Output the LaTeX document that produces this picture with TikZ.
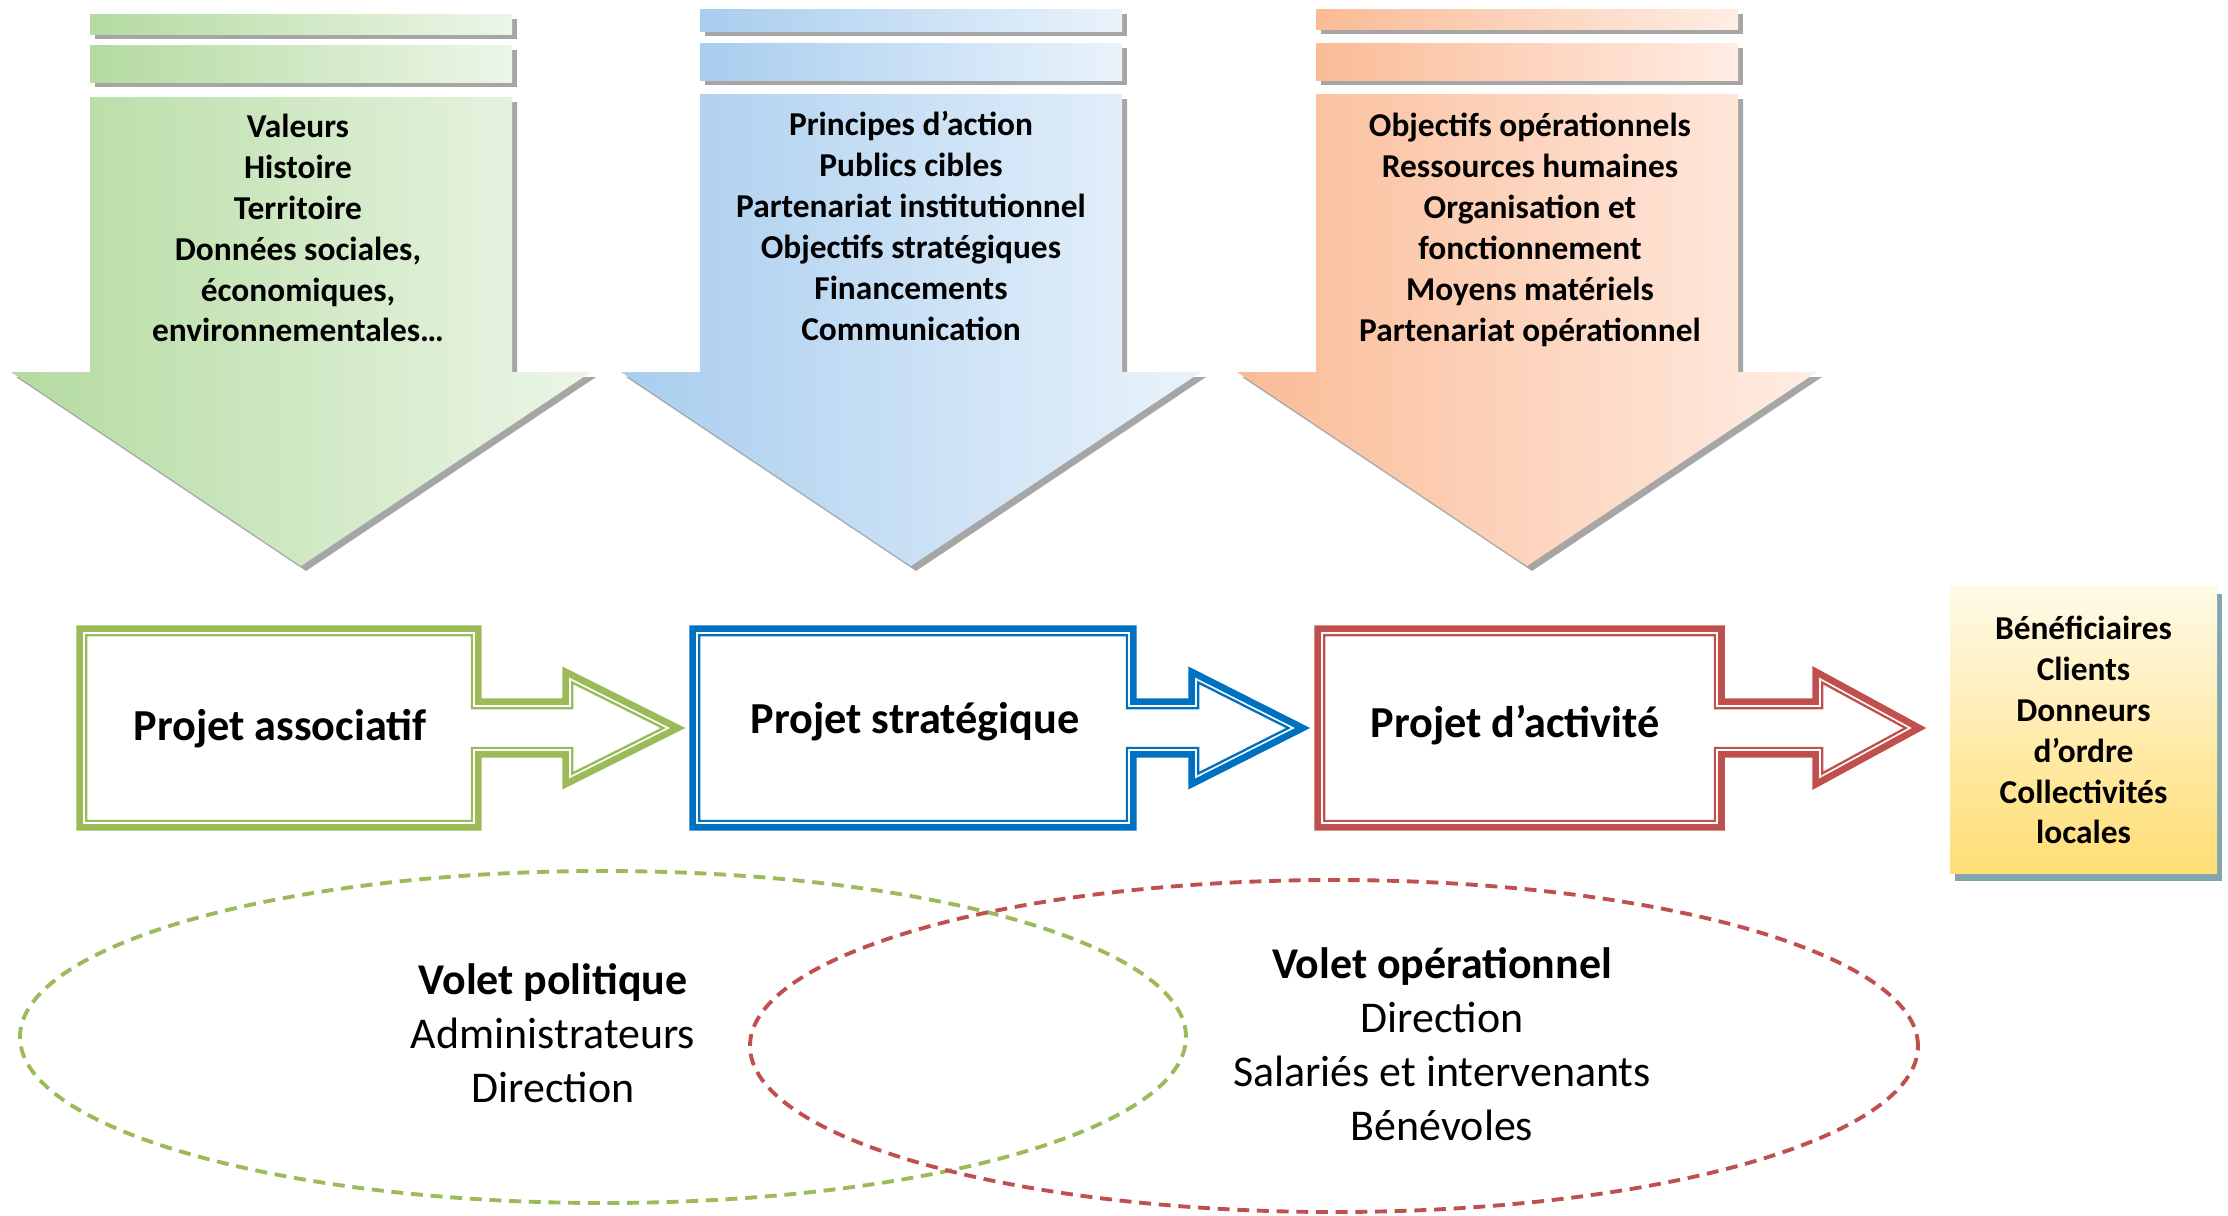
\documentclass[tikz,border=0pt]{standalone}
\usepackage{fontspec}
\setmainfont{Carlito}
\usetikzlibrary{shadows}

\definecolor{greenL}{RGB}{180,219,160}
\definecolor{greenR}{RGB}{236,246,232}
\definecolor{blueL}{RGB}{168,205,238}
\definecolor{blueR}{RGB}{234,243,251}
\definecolor{orangeL}{RGB}{250,187,150}
\definecolor{orangeR}{RGB}{255,237,228}
\definecolor{yellowT}{RGB}{255,250,232}
\definecolor{yellowB}{RGB}{255,222,117}
\definecolor{shadowB}{RGB}{130,165,175}
\definecolor{lineG}{RGB}{155,187,89}
\definecolor{lineB}{RGB}{0,112,192}
\definecolor{lineR}{RGB}{192,80,77}

% outline of a project box with its arrow: left, right, head, tip
\newcommand{\projetpath}[4]{(#1,-6.33) -- (#2,-6.33) -- (#2,-7.06) -- (#3,-7.06) -- (#3,-6.79) -- (#4,-7.28) -- (#3,-7.77) -- (#3,-7.50) -- (#2,-7.50) -- (#2,-8.23) -- (#1,-8.23) -- cycle}

\begin{document}
\begin{tikzpicture}[
  dshadow/.style={drop shadow={shadow xshift=0.05cm, shadow yshift=-0.05cm, fill=black!35, opacity=1}},
  projet/.style={preaction={draw=#1, line width=4.4pt}, fill=white, draw=#1, line width=0.7pt, double=white, double distance=0.45pt, line join=miter},
  listtxt/.style={align=center, font=\fontsize{9.5}{11.65}\selectfont\bfseries},
  titletxt/.style={font=\fontsize{12.6}{15}\selectfont\bfseries},
  voltxt/.style={align=center, font=\fontsize{12.5}{15.4}\selectfont},
  pubbox/.style={minimum width=2.67cm, minimum height=2.87cm, inner sep=0pt, top color=yellowT, bottom color=yellowB,
    drop shadow={shadow xshift=0.05cm, shadow yshift=-0.07cm, fill=shadowB, opacity=1}},
  volet/.style={line width=1.1pt, dash pattern=on 3.4pt off 2.2pt}
]
\useasboundingbox (0,0) rectangle (22.28,-12.15);

% Three down arrows
\shade[dshadow, left color=greenL, right color=greenR] (0.90,-0.14) rectangle (5.12,-0.34);
\shade[dshadow, left color=greenL, right color=greenR] (0.90,-0.45) rectangle (5.12,-0.82);
\shade[dshadow, left color=greenL, right color=greenR] (0.90,-0.97) -- (5.12,-0.97) -- (5.12,-3.72) -- (5.91,-3.72) -- (3.01,-5.66) -- (0.11,-3.72) -- (0.90,-3.72) -- cycle;

\shade[dshadow, left color=blueL, right color=blueR] (7.00,-0.09) rectangle (11.22,-0.31);
\shade[dshadow, left color=blueL, right color=blueR] (7.00,-0.43) rectangle (11.22,-0.80);
\shade[dshadow, left color=blueL, right color=blueR] (7.00,-0.94) -- (11.22,-0.94) -- (11.22,-3.72) -- (12.01,-3.72) -- (9.11,-5.66) -- (6.21,-3.72) -- (7.00,-3.72) -- cycle;

\shade[dshadow, left color=orangeL, right color=orangeR] (13.16,-0.09) rectangle (17.38,-0.29);
\shade[dshadow, left color=orangeL, right color=orangeR] (13.16,-0.43) rectangle (17.38,-0.80);
\shade[dshadow, left color=orangeL, right color=orangeR] (13.16,-0.94) -- (17.38,-0.94) -- (17.38,-3.72) -- (18.17,-3.72) -- (15.27,-5.66) -- (12.37,-3.72) -- (13.16,-3.72) -- cycle;

\node[listtxt] (valeurs) at (2.98,-2.28) {Valeurs\\Histoire\\Territoire\\Données sociales,\\économiques,\\environnementales…};
\node[listtxt] (principes) at (9.11,-2.26) {Principes d’action\\Publics cibles\\Partenariat institutionnel\\Objectifs stratégiques\\Financements\\Communication};
\node[listtxt] (objectifs) at (15.30,-2.30) {Objectifs opérationnels\\Ressources humaines\\Organisation et\\fonctionnement\\Moyens matériels\\Partenariat opérationnel};

% Project boxes
\draw[projet=lineG] \projetpath{0.84}{4.74}{5.70}{6.68};
\draw[projet=lineB] \projetpath{6.97}{11.29}{11.96}{12.93};
\draw[projet=lineR] \projetpath{13.22}{17.17}{18.20}{19.10};

\node[titletxt] (associatif) at (2.80,-7.29) {Projet associatif};
\node[titletxt] (strategique) at (9.15,-7.22) {Projet stratégique};
\node[titletxt] (activite) at (15.15,-7.25) {Projet d’activité};

\node[pubbox, listtxt] (publics) at (20.835,-7.30) {Bénéficiaires\\Clients\\Donneurs\\d’ordre\\Collectivités\\locales};

% Volets
\draw[volet, lineG] (6.03,-10.37) ellipse [x radius=5.83, y radius=1.66];
\draw[volet, lineR] (13.34,-10.46) ellipse [x radius=5.84, y radius=1.66];

\node[voltxt] (politique) at (5.53,-10.33) {\textbf{Volet politique}\\Administrateurs\\Direction};
\node[voltxt] (operationnel) at (14.42,-10.44) {\textbf{Volet opérationnel}\\Direction\\Salariés et intervenants\\Bénévoles};

\end{tikzpicture}
\end{document}
